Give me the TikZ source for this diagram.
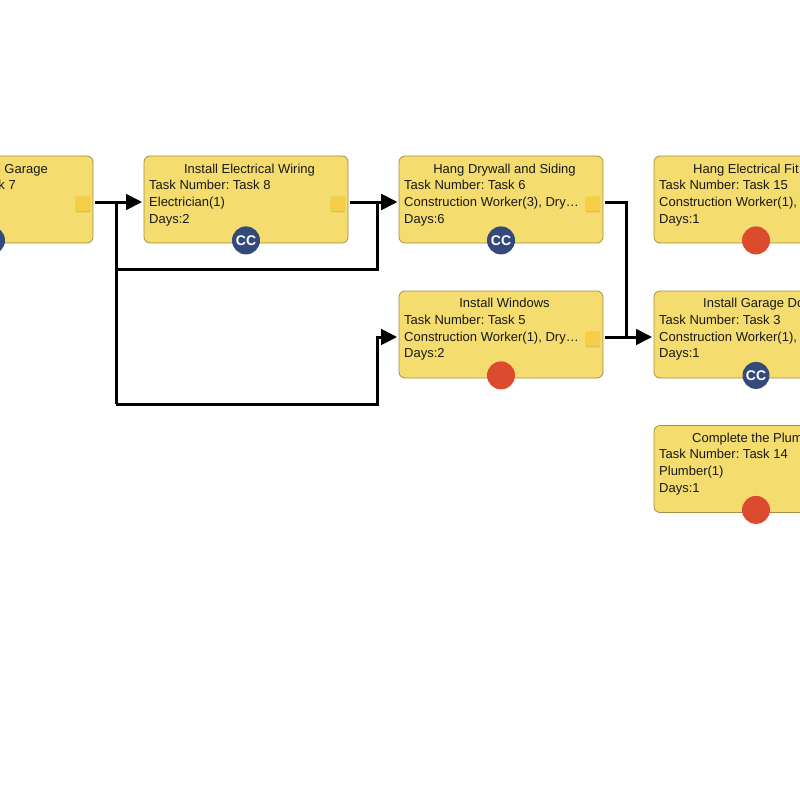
\documentclass[tikz,border=0pt]{standalone}
\usepackage{fontspec}
\setmainfont{Liberation Sans}
\usetikzlibrary{arrows.meta}
\frenchspacing
\definecolor{boxfill}{HTML}{F5DC6E}
\definecolor{boxline}{HTML}{A58F45}
\definecolor{notefill}{HTML}{F5CE47}
\definecolor{noteshade}{HTML}{DBBF5E}
\definecolor{ccblue}{HTML}{344A7A}
\definecolor{dotred}{HTML}{DD4B2E}
\tikzset{
  taskbox/.style={draw=boxline,fill=boxfill,line width=0.8pt,rounded corners=6pt,
    minimum width=204pt,minimum height=87pt,inner sep=0pt},
  tasktext/.style={anchor=base west,inner sep=0pt,font=\fontsize{13pt}{15pt}\selectfont,text=black!90},
  tasktitle/.style={tasktext,anchor=base},
  notemark/.style={fill=notefill,rounded corners=1pt,minimum size=14.5pt,inner sep=0pt},
  noteshadow/.style={fill=noteshade,rounded corners=1pt,minimum size=14.5pt,inner sep=0pt},
  ccdot/.style={circle,fill=ccblue,minimum size=28pt,inner sep=0pt,text=white,
    font=\fontsize{14pt}{14pt}\selectfont\bfseries},
  reddot/.style={circle,fill=dotred,minimum size=28pt,inner sep=0pt},
  link/.style={draw=black,line width=3pt,line join=miter},
  linkarrow/.style={link,-{Triangle[length=16pt,width=15.5pt]}}
}
\begin{document}
\begin{tikzpicture}[x=1pt,y=-1pt]
  \useasboundingbox (0,0) rectangle (800,800);

  % task boxes
  \foreach \name/\cx/\cy in {T7/-9/199.5, T8/246/199.5, T6/501/199.5, T15/756/199.5,
                             T5/501/334.5, T3/756/334.5, T14/756/469} {
    \node[taskbox] (\name) at (\cx,\cy) {};
  }

  % note marks
  \foreach \name in {T7,T8,T6,T5} {
    \node[noteshadow] at ([shift={(-10.5,5.5)}]\name.east) {};
    \node[notemark] (\name note) at ([shift={(-10.5,4)}]\name.east) {};
  }

  % status dots
  \node[ccdot] (T7dot) at ([yshift=3pt]T7.south) {};
  \node[ccdot] (T8dot) at ([yshift=3pt]T8.south) {CC};
  \node[ccdot] (T6dot) at ([yshift=3pt]T6.south) {CC};
  \node[ccdot,minimum size=27pt] (T3dot) at ([yshift=3pt]T3.south) {CC};
  \node[reddot] (T15dot) at ([yshift=3pt]T15.south) {};
  \node[reddot] (T5dot) at ([yshift=3pt]T5.south) {};
  \node[reddot] (T14dot) at ([yshift=3pt]T14.south) {};

  % texts
  \node[tasktext,anchor=base east] (T7a) at (48,173) {e Garage};
  \node[tasktext,anchor=base east] (T7b) at (16,189) {k 7};

  \node[tasktitle] (T8a) at (249.5,173) {Install Electrical Wiring};
  \node[tasktext] (T8b) at (149,189) {Task Number: Task 8};
  \node[tasktext] (T8c) at (149,206) {Electrician(1)};
  \node[tasktext] (T8d) at (149,223) {Days:2};

  \node[tasktitle] (T6a) at (504.5,173) {Hang Drywall and Siding};
  \node[tasktext] (T6b) at (404,189) {Task Number: Task 6};
  \node[tasktext] (T6c) at (404,206) {Construction Worker(3), Dry…};
  \node[tasktext] (T6d) at (404,223) {Days:6};

  \node[tasktext] (T15a) at (693,173) {Hang Electrical Fit};
  \node[tasktext] (T15b) at (659,189) {Task Number: Task 15};
  \node[tasktext] (T15c) at (659,206) {Construction Worker(1),};
  \node[tasktext] (T15d) at (659,223) {Days:1};

  \node[tasktitle] (T5a) at (504.5,307) {Install Windows};
  \node[tasktext] (T5b) at (404,324) {Task Number: Task 5};
  \node[tasktext] (T5c) at (404,341) {Construction Worker(1), Dry…};
  \node[tasktext] (T5d) at (404,357) {Days:2};

  \node[tasktext] (T3a) at (703,307) {Install Garage Do};
  \node[tasktext] (T3b) at (659,324) {Task Number: Task 3};
  \node[tasktext] (T3c) at (659,341) {Construction Worker(1),};
  \node[tasktext] (T3d) at (659,357) {Days:1};

  \node[tasktext] (T14a) at (692,442) {Complete the Plum};
  \node[tasktext] (T14b) at (659,458) {Task Number: Task 14};
  \node[tasktext] (T14c) at (659,475) {Plumber(1)};
  \node[tasktext] (T14d) at (659,492) {Days:1};

  % connectors
  \coordinate (branch) at (116,202);
  \coordinate (upper) at (116,269);
  \coordinate (lower) at (116,404);
  \coordinate (merge) at (626,337);

  \draw[linkarrow,shorten <=2pt,shorten >=1.5pt] (T7.east |- branch) -- (T8.west |- branch);
  \draw[link] (branch) -- (lower);
  \draw[linkarrow,shorten <=2pt,shorten >=1.5pt] (T8.east |- branch) -- (T6.west |- branch);
  \draw[linkarrow,shorten >=1.5pt] (upper) -| (377,202) -- (T6.west |- branch);
  \draw[linkarrow,shorten >=1.5pt] (lower) -| (377,337) -- (T5.west |- merge);
  \draw[linkarrow,shorten <=2pt,shorten >=1.5pt] (T5.east |- merge) -- (T3.west |- merge);
  \draw[link,shorten <=2pt] (T6.east |- branch) -| (merge);
\end{tikzpicture}
\end{document}
